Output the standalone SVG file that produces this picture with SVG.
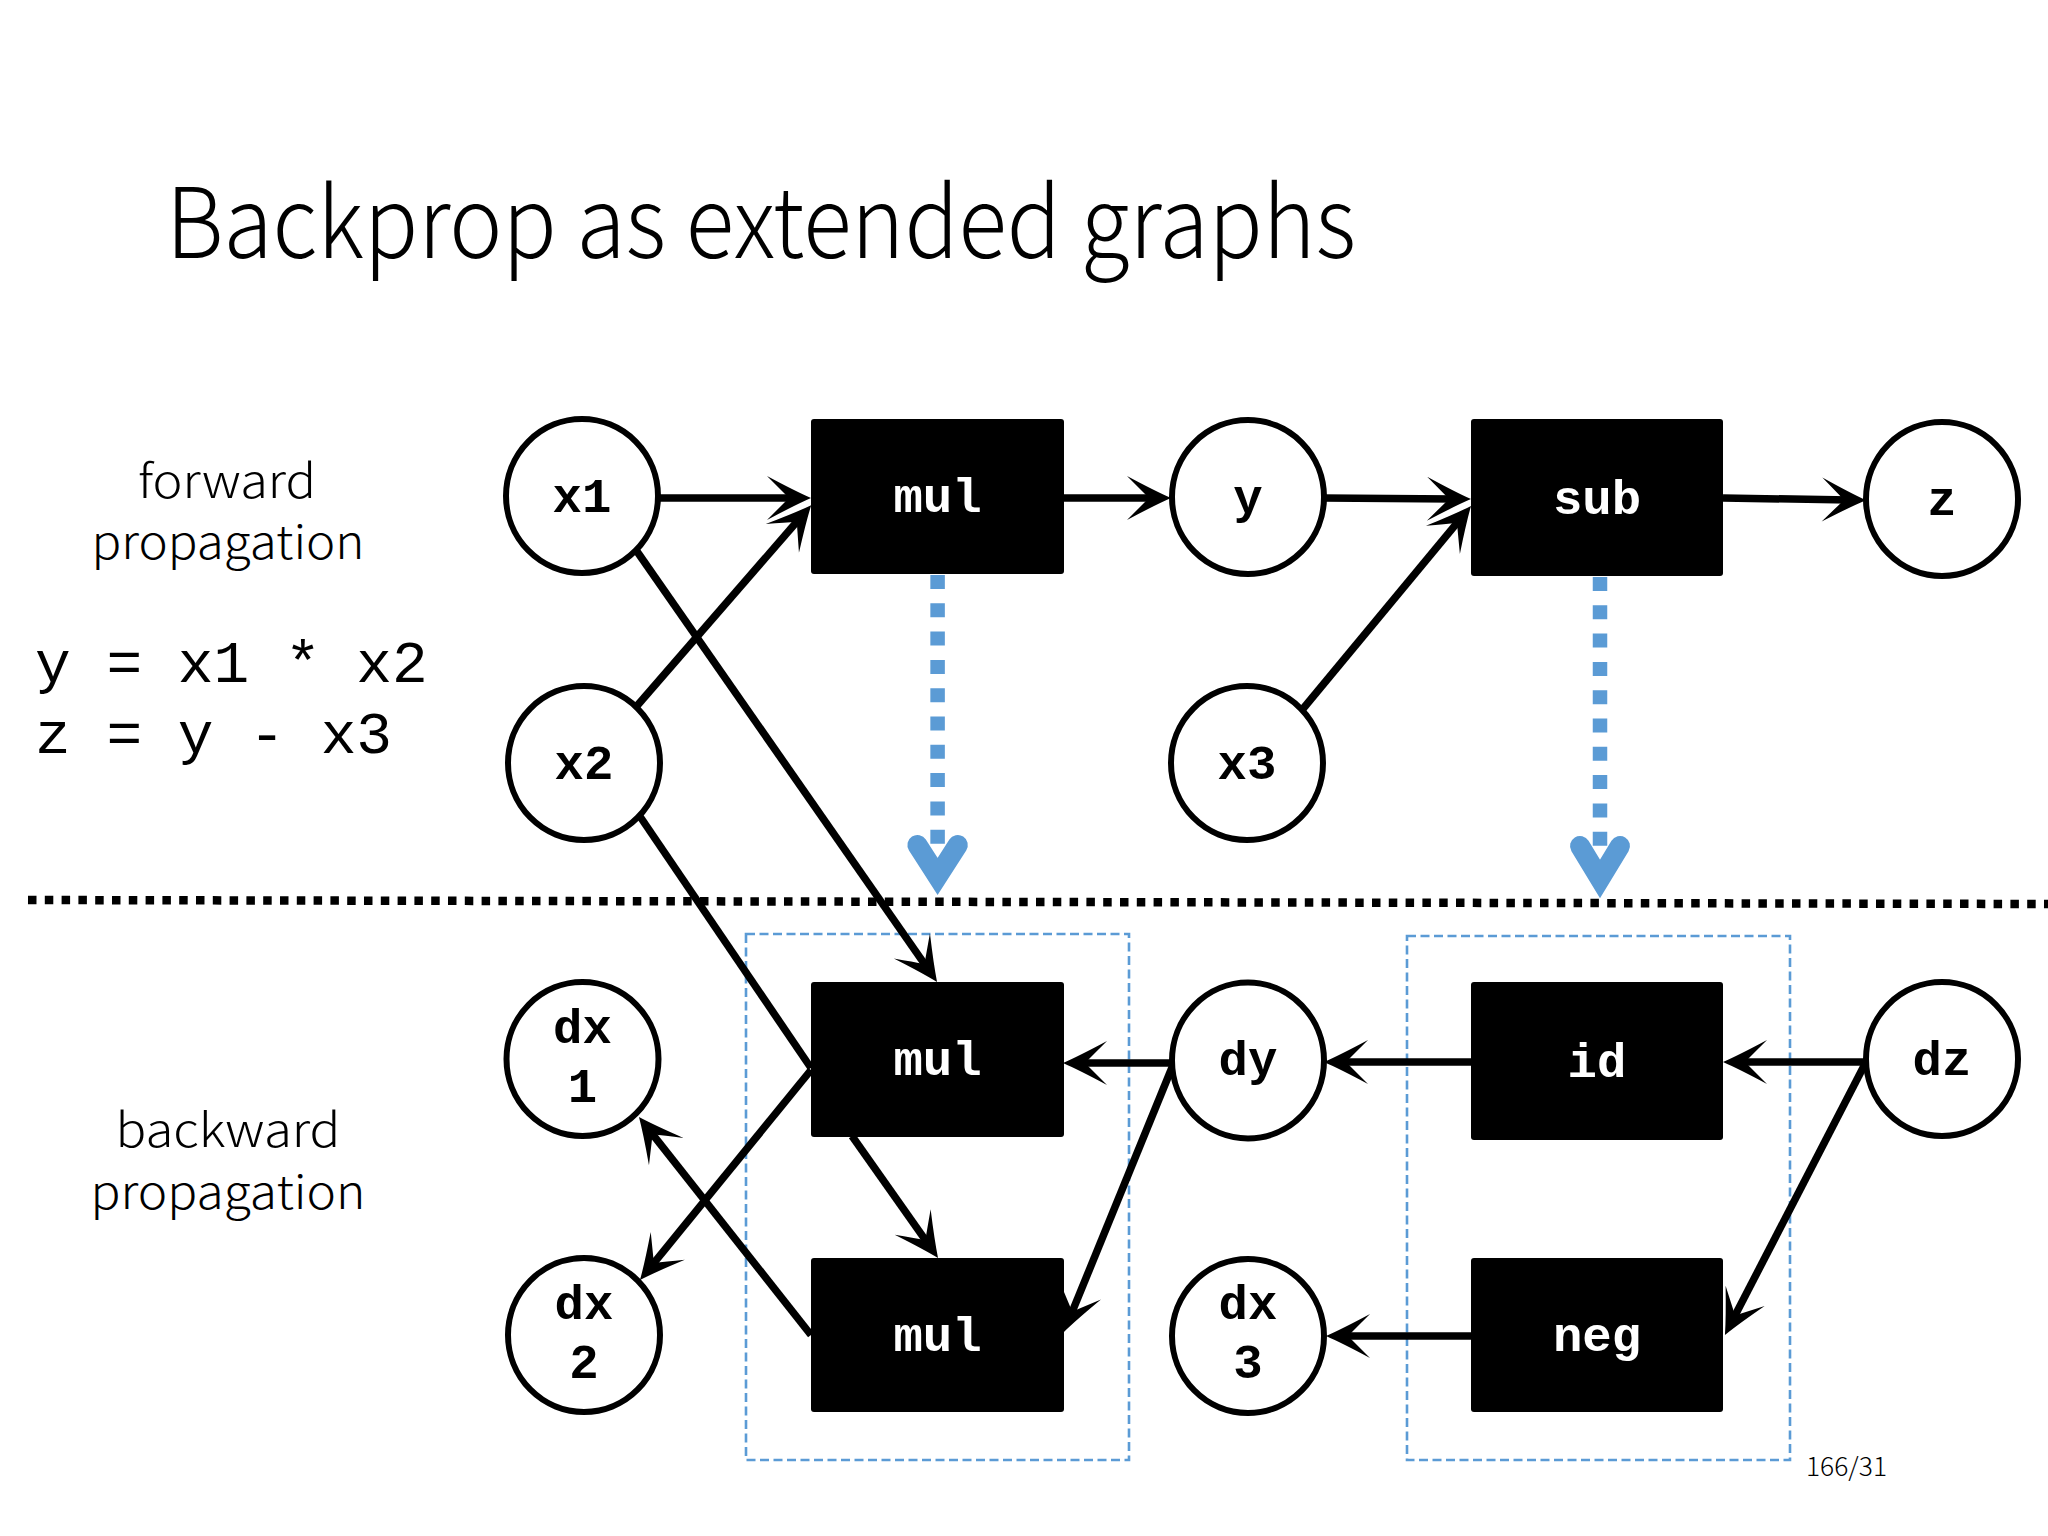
<svg xmlns="http://www.w3.org/2000/svg" width="2048" height="1536" viewBox="0 0 2048 1536">
<style>
.thin{font-family:"Noto Sans CJK JP","Liberation Sans",sans-serif;font-weight:300;fill:#000}
.eq{font-family:"Liberation Mono","DejaVu Sans Mono",monospace;font-size:59.5px;fill:#000}
.lbl{font-family:"Liberation Mono","DejaVu Sans Mono",monospace;font-weight:bold;font-size:49px;text-anchor:middle}
.circ{fill:#fff;stroke:#000;stroke-width:6}
.op{fill:#000}
.opt{fill:#fff}
.ct{fill:#000}
.edge{fill:none;stroke:#000;stroke-width:7.5}
.arr{marker-end:url(#ah)}
.blue{fill:none;stroke:#5B9BD5}
</style>
<defs>
<marker id="ah" viewBox="-30 -24 50 48" markerWidth="50" markerHeight="48" refX="0" refY="0" orient="auto" markerUnits="userSpaceOnUse" overflow="visible">
<path d="M16,0 Q0,-7 -28,-22 Q-14,-8 -6,0 Q-14,8 -28,22 Q0,7 16,0 Z" fill="#000"/>
</marker>
</defs>
<rect width="2048" height="1536" fill="#fff"/>

<g id="title">
<text class="thin" x="166" y="258" font-size="98" textLength="1190" lengthAdjust="spacingAndGlyphs">Backprop as extended graphs</text>
</g>

<g id="side-labels" class="thin" text-anchor="middle" font-size="46">
<text x="227" y="498" textLength="178" lengthAdjust="spacingAndGlyphs">forward</text>
<text x="228" y="559" textLength="273" lengthAdjust="spacingAndGlyphs">propagation</text>
<text x="228" y="1147" textLength="225" lengthAdjust="spacingAndGlyphs">backward</text>
<text x="228" y="1209" textLength="275" lengthAdjust="spacingAndGlyphs">propagation</text>
</g>

<g id="equations" class="eq">
<text x="35" y="682">y = x1 * x2</text>
<text x="35" y="753">z = y - x3</text>
</g>

<g id="separator">
<line x1="28" y1="900" x2="2048" y2="904" stroke="#000" stroke-width="8.5" stroke-dasharray="8.5 8.3"/>
</g>

<g id="groups">
<rect class="blue" x="746" y="934" width="383" height="526" stroke-width="2.6" stroke-dasharray="9 4.5"/>
<rect class="blue" x="1407" y="936" width="383" height="524" stroke-width="2.6" stroke-dasharray="9 4.5"/>
</g>

<g id="derive-arrows">
<line class="blue" x1="937.6" y1="575" x2="937.6" y2="845" stroke-width="14.5" stroke-dasharray="14 14.3"/>
<polyline class="blue" points="917.4,845 937.6,876.5 957.8,845" stroke-width="20" stroke-linecap="round" stroke-linejoin="miter"/>
<line class="blue" x1="1600" y1="577" x2="1600" y2="847" stroke-width="14.5" stroke-dasharray="14 14.3"/>
<polyline class="blue" points="1580,846 1600,879 1620,846" stroke-width="20" stroke-linecap="round" stroke-linejoin="miter"/>
</g>

<g id="connectors">
<line class="edge arr" x1="657" y1="498" x2="795" y2="498"/>
<line class="edge arr" x1="636" y1="707" x2="800.7" y2="517.3"/>
<line class="edge arr" x1="1063" y1="498" x2="1155" y2="498"/>
<line class="edge arr" x1="1323" y1="498" x2="1455" y2="499"/>
<line class="edge arr" x1="1302" y1="710" x2="1460.8" y2="518.3"/>
<line class="edge arr" x1="1723" y1="498" x2="1850" y2="500"/>
<line class="edge arr" x1="636" y1="550" x2="927.9" y2="968.9"/>
<line class="edge" x1="639" y1="815" x2="811" y2="1068"/>
<line class="edge arr" x1="811" y1="1070" x2="650.1" y2="1267.6"/>
<line class="edge arr" x1="852" y1="1136" x2="928.8" y2="1244.9"/>
<line class="edge arr" x1="811" y1="1335" x2="648.9" y2="1129.6"/>
<line class="edge arr" x1="1171" y1="1063" x2="1079" y2="1063"/>
<line class="edge arr" x1="1173" y1="1065" x2="1070" y2="1317.2"/>
<line class="edge arr" x1="1471" y1="1062" x2="1340" y2="1062"/>
<line class="edge arr" x1="1866" y1="1062" x2="1739" y2="1062"/>
<line class="edge arr" x1="1866" y1="1062" x2="1732.3" y2="1320.8"/>
<line class="edge arr" x1="1471" y1="1336" x2="1342" y2="1336"/>
</g>

<g id="node-x1"><ellipse class="circ" cx="582" cy="496" rx="76" ry="77"/><text class="lbl ct" x="582" y="512">x1</text></g>
<g id="node-x2"><ellipse class="circ" cx="584" cy="763" rx="76" ry="77"/><text class="lbl ct" x="584" y="779">x2</text></g>
<g id="node-mul-f"><rect class="op" x="811" y="419" width="253" height="155" rx="3"/><text class="lbl opt" x="937.5" y="512">mul</text></g>
<g id="node-y"><ellipse class="circ" cx="1248" cy="497" rx="76" ry="77"/><text class="lbl ct" x="1248" y="513">y</text></g>
<g id="node-sub"><rect class="op" x="1471" y="419" width="252" height="157" rx="3"/><text class="lbl opt" x="1597" y="514">sub</text></g>
<g id="node-z"><ellipse class="circ" cx="1942" cy="499" rx="76" ry="77"/><text class="lbl ct" x="1942" y="515">z</text></g>
<g id="node-x3"><ellipse class="circ" cx="1247" cy="763" rx="76" ry="77"/><text class="lbl ct" x="1247" y="779">x3</text></g>

<g id="node-dx1"><ellipse class="circ" cx="582.5" cy="1059" rx="76" ry="77"/><text class="lbl ct" x="582.5" y="1043">dx</text><text class="lbl ct" x="582.5" y="1102">1</text></g>
<g id="node-mul-b1"><rect class="op" x="811" y="982" width="253" height="155" rx="3"/><text class="lbl opt" x="937.5" y="1075">mul</text></g>
<g id="node-dy"><ellipse class="circ" cx="1248" cy="1060.5" rx="76" ry="78"/><text class="lbl ct" x="1248" y="1075">dy</text></g>
<g id="node-id"><rect class="op" x="1471" y="982" width="252" height="158" rx="3"/><text class="lbl opt" x="1597" y="1077">id</text></g>
<g id="node-dz"><ellipse class="circ" cx="1942" cy="1059" rx="76" ry="77"/><text class="lbl ct" x="1942" y="1075">dz</text></g>
<g id="node-dx2"><ellipse class="circ" cx="584" cy="1335" rx="76" ry="77"/><text class="lbl ct" x="584" y="1319">dx</text><text class="lbl ct" x="584" y="1378">2</text></g>
<g id="node-mul-b2"><rect class="op" x="811" y="1258" width="253" height="154" rx="3"/><text class="lbl opt" x="937.5" y="1351">mul</text></g>
<g id="node-dx3"><ellipse class="circ" cx="1248" cy="1336" rx="76" ry="77"/><text class="lbl ct" x="1248" y="1319">dx</text><text class="lbl ct" x="1248" y="1378">3</text></g>
<g id="node-neg"><rect class="op" x="1471" y="1258" width="252" height="154" rx="3"/><text class="lbl opt" x="1597" y="1351">neg</text></g>

<g id="page-number">
<text class="thin" x="1806" y="1476" font-size="26" textLength="81" lengthAdjust="spacingAndGlyphs">166/31</text>
</g>
</svg>
